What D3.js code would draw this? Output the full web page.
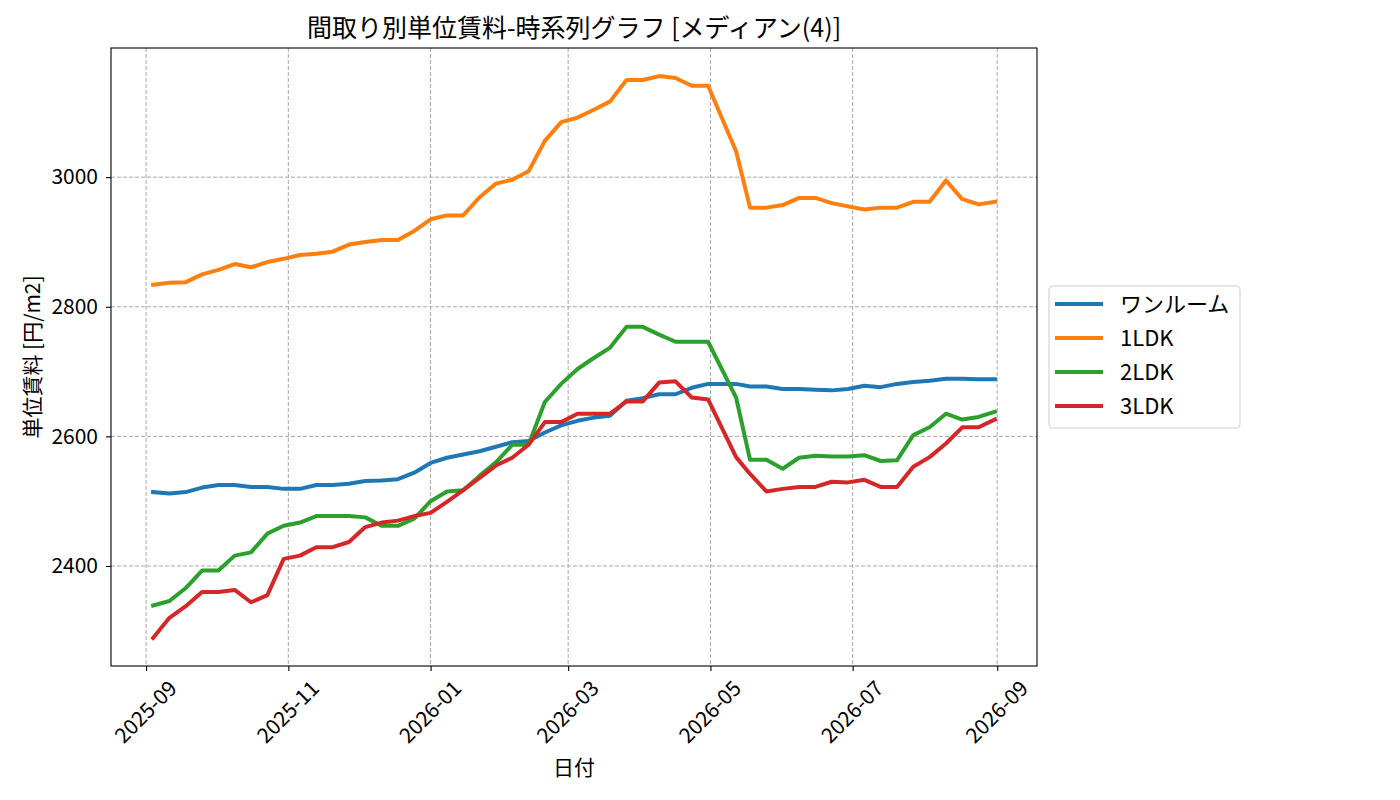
<!DOCTYPE html>
<html>
<head>
<meta charset="utf-8">
<script src="https://cdn.jsdelivr.net/npm/d3@7"></script>
<style>
  body { margin: 0; background: #fff; }
  text { font-family: "Noto Sans CJK JP", "DejaVu Sans", sans-serif; fill: #000; }
</style>
</head>
<body>
<div id="chart"></div>
<script>
// data
const dates = [
  "2025-09-04", "2025-09-11", "2025-09-18", "2025-09-25", "2025-10-02", "2025-10-09",
  "2025-10-16", "2025-10-23", "2025-10-30", "2025-11-06", "2025-11-13", "2025-11-20",
  "2025-11-27", "2025-12-04", "2025-12-11", "2025-12-18", "2025-12-25", "2026-01-01",
  "2026-01-08", "2026-01-15", "2026-01-22", "2026-01-29", "2026-02-05", "2026-02-12",
  "2026-02-19", "2026-02-26", "2026-03-05", "2026-03-12", "2026-03-19", "2026-03-26",
  "2026-04-02", "2026-04-09", "2026-04-16", "2026-04-23", "2026-04-30", "2026-05-12",
  "2026-05-18", "2026-05-25", "2026-06-01", "2026-06-08", "2026-06-15", "2026-06-22",
  "2026-06-29", "2026-07-06", "2026-07-13", "2026-07-20", "2026-07-27", "2026-08-03",
  "2026-08-10", "2026-08-17", "2026-08-24", "2026-08-31"
];

const oneRoom = [
  2514, 2512, 2514, 2521, 2525, 2525, 2522, 2522, 2519, 2519, 2525, 2525, 2527,
  2531, 2532, 2534, 2544, 2559, 2567, 2572, 2577, 2584, 2591, 2593, 2606, 2617,
  2624, 2629, 2632, 2655, 2659, 2665, 2665, 2675, 2681, 2681, 2677, 2677, 2673,
  2673, 2672, 2671, 2673, 2678, 2676, 2681, 2684, 2686, 2689, 2689, 2688, 2688
];
const ldk1 = [
  2834, 2837, 2838, 2850, 2857, 2866, 2861, 2869, 2874, 2880, 2882, 2885, 2896,
  2900, 2903, 2903, 2917, 2935, 2941, 2941, 2969, 2990, 2996, 3009, 3056, 3085,
  3092, 3104, 3117, 3150, 3150, 3156, 3153, 3141, 3141, 3040, 2953, 2953, 2957,
  2968, 2968, 2960, 2955, 2950, 2953, 2953, 2962, 2962, 2995, 2966, 2958, 2962
];
const ldk2 = [
  2339, 2346, 2366, 2393, 2393, 2416, 2421, 2450, 2462, 2467, 2477, 2477, 2477,
  2475, 2462, 2462, 2473, 2500, 2515, 2517, 2539, 2560, 2587, 2587, 2653, 2681,
  2704, 2721, 2737, 2769, 2769, 2757, 2746, 2746, 2746, 2660, 2564, 2564, 2550,
  2567, 2570, 2569, 2569, 2571, 2562, 2563, 2602, 2614, 2635, 2626, 2630, 2638
];
const ldk3 = [
  2289, 2320, 2338, 2360, 2360, 2363, 2344, 2355, 2411, 2416, 2429, 2429, 2437,
  2460, 2467, 2470, 2477, 2482, 2499, 2517, 2536, 2555, 2567, 2587, 2622, 2622,
  2635, 2635, 2635, 2654, 2654, 2683, 2685, 2660, 2657, 2568, 2542, 2515, 2519,
  2522, 2522, 2530, 2529, 2533, 2522, 2522, 2553, 2568, 2589, 2614, 2614, 2626
];

const seriesNames = ["ワンルーム", "1LDK", "2LDK", "3LDK"];
const seriesValues = [oneRoom, ldk1, ldk2, ldk3];
const seriesColors = ["#1f77b4", "#ff7f0e", "#2ca02c", "#d62728"];

const yTickValues = [2400, 2600, 2800, 3000];
const xTickLabels = ["2025-09", "2025-11", "2026-01", "2026-03", "2026-05", "2026-07", "2026-09"];

const titleText = "間取り別単位賃料-時系列グラフ [メディアン(4)]";
const xLabelText = "日付";
const yLabelText = "単位賃料 [円/m2]";

// dimensions
const totalWidth = 1400;
const totalHeight = 800;
const margin = { top: 48, right: 363, bottom: 134, left: 111 };
const width = totalWidth - margin.left - margin.right;
const height = totalHeight - margin.top - margin.bottom;

const parseDay = d3.utcParse("%Y-%m-%d");
const parseMonth = d3.utcParse("%Y-%m");
const dateValues = dates.map(parseDay);

const svgRoot = d3.select("#chart")
  .append("svg")
  .attr("width", totalWidth)
  .attr("height", totalHeight);

const svg = svgRoot.append("g")
  .attr("transform", `translate(${margin.left}, ${margin.top})`);

// scales with matplotlib-like 5% padding
const xExtent = d3.extent(dateValues);
const xPad = (xExtent[1] - xExtent[0]) * 0.05;
const xScale = d3.scaleUtc()
  .domain([new Date(+xExtent[0] - xPad), new Date(+xExtent[1] + xPad)])
  .range([0, width]);

const allValues = seriesValues.flat();
const yMin = d3.min(allValues);
const yMax = d3.max(allValues);
const yPad = (yMax - yMin) * 0.05;
const yScale = d3.scaleLinear()
  .domain([yMin - yPad, yMax + yPad])
  .range([height, 0]);

const xTickDates = xTickLabels.map(parseMonth);

// grid
const grid = svg.append("g").attr("class", "grid");
grid.selectAll(".vgrid")
  .data(xTickDates)
  .enter().append("line")
  .attr("x1", d => xScale(d)).attr("x2", d => xScale(d))
  .attr("y1", 0).attr("y2", height)
  .attr("stroke", "#a8a8a8")
  .attr("stroke-width", 1)
  .attr("stroke-dasharray", "4,2");
grid.selectAll(".hgrid")
  .data(yTickValues)
  .enter().append("line")
  .attr("x1", 0).attr("x2", width)
  .attr("y1", d => yScale(d)).attr("y2", d => yScale(d))
  .attr("stroke", "#a8a8a8")
  .attr("stroke-width", 1)
  .attr("stroke-dasharray", "4,2");

// lines
const lineGenerator = vals => d3.line()
  .x((d, i) => xScale(dateValues[i]))
  .y(d => yScale(d))(vals);

seriesValues.forEach((vals, i) => {
  svg.append("path")
    .attr("d", lineGenerator(vals))
    .attr("fill", "none")
    .attr("stroke", seriesColors[i])
    .attr("stroke-width", 4)
    .attr("stroke-linejoin", "round")
    .attr("stroke-linecap", "square");
});

// frame
svg.append("rect")
  .attr("width", width)
  .attr("height", height)
  .attr("fill", "none")
  .attr("stroke", "#000")
  .attr("stroke-width", 1.1);

// axes
const xAxis = d3.axisBottom(xScale)
  .tickValues(xTickDates)
  .tickSize(5)
  .tickPadding(5)
  .tickFormat(d3.utcFormat("%Y-%m"));

const yAxis = d3.axisLeft(yScale)
  .tickValues(yTickValues)
  .tickSize(5)
  .tickPadding(8)
  .tickFormat(d3.format("d"));

const gx = svg.append("g")
  .attr("transform", `translate(0, ${height})`)
  .call(xAxis);
const gy = svg.append("g").call(yAxis);

[gx, gy].forEach(g => {
  g.select(".domain").remove();
  g.selectAll(".tick line").attr("stroke", "#000").attr("stroke-width", 1.1);
  g.selectAll(".tick text").attr("font-size", "21px").attr("fill", "#000")
    .style("font-family", '"Noto Sans CJK JP", "DejaVu Sans", sans-serif');
});

// rotate x tick labels 45 degrees, centred under the tick like matplotlib
gx.selectAll(".tick text").each(function() {
  const t = d3.select(this);
  const len = this.getComputedTextLength();
  const side = (len + 21) * Math.SQRT1_2;
  t.attr("y", null).attr("dy", null)
    .attr("text-anchor", "middle")
    .attr("dominant-baseline", "central")
    .attr("transform", `translate(-2, ${10 + side / 2}) rotate(-45)`);
});

// title and axis labels
svg.append("text")
  .attr("x", width / 2)
  .attr("y", -11)
  .attr("text-anchor", "middle")
  .attr("font-size", "25px")
  .text(titleText);

svg.append("text")
  .attr("x", width / 2)
  .attr("y", height + 109)
  .attr("text-anchor", "middle")
  .attr("font-size", "21px")
  .text(xLabelText);

svg.append("text")
  .attr("transform", `translate(${-80}, ${height / 2}) rotate(-90)`)
  .attr("text-anchor", "middle")
  .attr("dominant-baseline", "central")
  .attr("font-size", "21px")
  .text(yLabelText);

// legend
const legendX = width + 12;
const legendY = 238;
const legend = svg.append("g")
  .attr("transform", `translate(${legendX}, ${legendY})`);

legend.append("rect")
  .attr("width", 191)
  .attr("height", 142)
  .attr("rx", 4)
  .attr("fill", "#fff")
  .attr("fill-opacity", 0.8)
  .attr("stroke", "#d0d0d0")
  .attr("stroke-width", 1.1);

const legendItems = legend.selectAll(".legend")
  .data(seriesNames)
  .enter().append("g")
  .attr("class", "legend")
  .attr("transform", (d, i) => `translate(0, ${18 + i * 34})`);

legendItems.append("line")
  .attr("x1", 8).attr("x2", 52)
  .attr("stroke", (d, i) => seriesColors[i])
  .attr("stroke-width", 4)
  .attr("stroke-linecap", "square");

legendItems.append("text")
  .attr("x", 71)
  .attr("dy", "0.35em")
  .attr("font-size", "22px")
  .text(d => d);
</script>
</body>
</html>
